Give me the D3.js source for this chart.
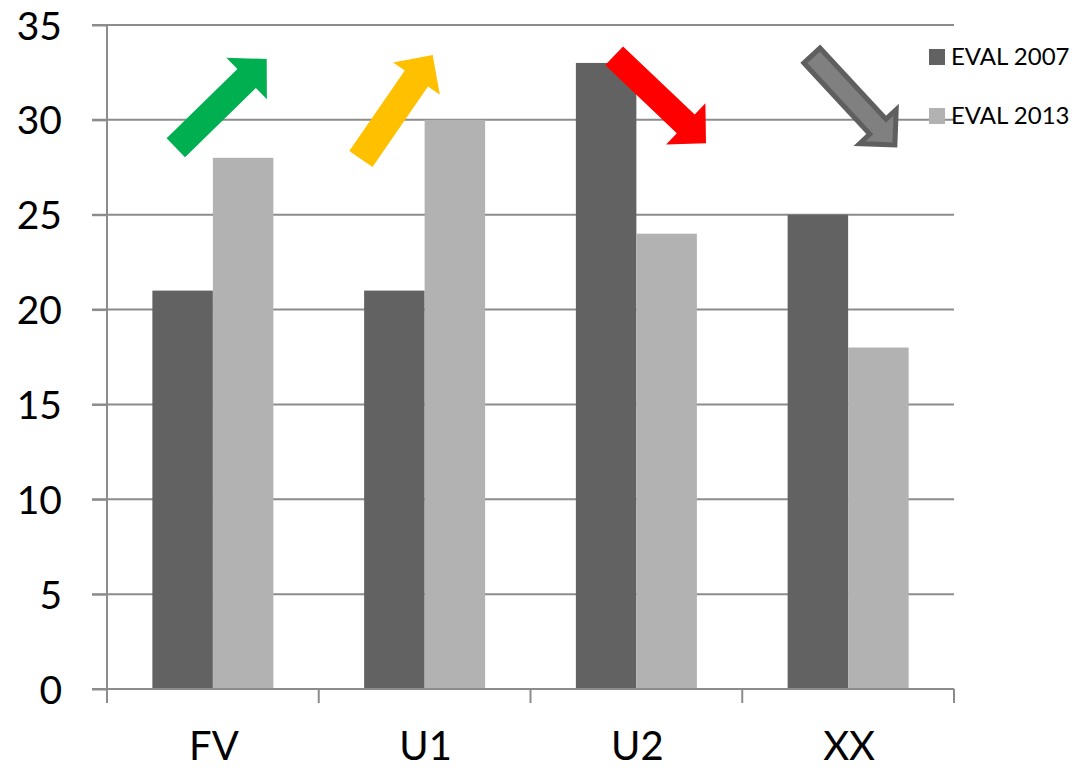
<!DOCTYPE html>
<html>
<head>
<meta charset="utf-8">
<script src="https://cdn.jsdelivr.net/npm/d3@7"></script>
<style>
  html, body { margin: 0; padding: 0; background: #fff; }
  svg { display: block; }
  text { font-family: Lato, "Open Sans", sans-serif; fill: #000; }
</style>
</head>
<body>
<svg id="chart" width="1086" height="770"></svg>
<script>
// ---- data ----
const categories = ["FV", "U1", "U2", "XX"];
const seriesNames = ["EVAL 2007", "EVAL 2013"];
const eval2007 = [21, 21, 33, 25];
const eval2013 = [28, 30, 24, 18];
const yTicks = [0, 5, 10, 15, 20, 25, 30, 35];
// trend arrows: category, tail (band fraction, value), tip (band fraction, value)
const arrowCats = ["FV", "U1", "U2", "XX"];
const arrowTail = [[0.325, 28.53], [0.199, 27.93], [0.395, 33.38], [0.329, 33.39]];
const arrowTip  = [[0.754, 33.21], [0.538, 33.42], [0.829, 28.77], [0.721, 28.68]];

// ---- styling ----
const colors = ["#626262", "#b2b2b2"];
const arrowFill = ["#00b050", "#ffc000", "#ff0000", "#808080"];
const arrowStroke = [null, null, null, "#5f5f5f"];
const arrowShaft = [26.4, 28.2, 25.9, 22];
const arrowHeadHalf = [29, 28.4, 28.5, 25];
const arrowHeadLen = [28, 28.7, 28, 25];
const gridColor = "#8c8c8c";

const svg = d3.select("#chart");
const mLeft = 107, mRight = 954, mTop = 25, mBottom = 689;

const x = d3.scaleBand().domain(categories).range([mLeft, mRight]).paddingInner(0).paddingOuter(0);
const xInner = d3.scaleBand().domain(seriesNames).range([0, x.bandwidth()]).paddingInner(0).paddingOuter(0.75);
const y = d3.scaleLinear().domain([0, 35]).range([mBottom, mTop]);

// gridlines
svg.append("g").selectAll("line").data(yTicks.filter(d => d > 0)).join("line")
  .attr("x1", mLeft - 15).attr("x2", mRight)
  .attr("y1", d => y(d)).attr("y2", d => y(d))
  .attr("stroke", gridColor).attr("stroke-width", 2);

// y axis
const yAxis = svg.append("g").attr("transform", `translate(${mLeft},0)`)
  .call(d3.axisLeft(y).tickValues(yTicks).tickSize(15).tickPadding(30).tickFormat(d3.format("d")));
yAxis.select(".domain").attr("stroke", gridColor).attr("stroke-width", 2).attr("d", `M-15,${mTop}H0V${mBottom}`);
yAxis.selectAll(".tick line").attr("stroke", gridColor).attr("stroke-width", 2);
yAxis.selectAll(".tick text").attr("font-size", 39).attr("font-family", "Lato").attr("fill", "#000").attr("dy", "0.36em");

// bars
const series = [eval2007, eval2013];
const gBars = svg.append("g");
series.forEach((vals, si) => {
  gBars.append("g").selectAll("rect").data(categories).join("rect")
    .attr("x", (c) => x(c) + xInner(seriesNames[si]))
    .attr("width", xInner.bandwidth())
    .attr("y", (c, i) => y(vals[i]))
    .attr("height", (c, i) => y(0) - y(vals[i]))
    .attr("fill", colors[si]);
});

// x axis
const xAxisG = svg.append("g").attr("transform", `translate(0,${mBottom})`);
xAxisG.append("line").attr("x1", mLeft - 15).attr("x2", mRight).attr("y1", 0).attr("y2", 0)
  .attr("stroke", gridColor).attr("stroke-width", 2);
const boundaries = categories.map(c => x(c)).concat([x(categories[categories.length - 1]) + x.bandwidth()]);
xAxisG.selectAll("line.tk").data(boundaries).join("line").attr("class", "tk")
  .attr("x1", d => d).attr("x2", d => d).attr("y1", 0).attr("y2", 14)
  .attr("stroke", gridColor).attr("stroke-width", 2);
xAxisG.selectAll("text").data(categories).join("text")
  .attr("x", d => x(d) + x.bandwidth() / 2 + 1)
  .attr("y", 71)
  .attr("text-anchor", "middle")
  .attr("font-size", 40)
  .text(d => d);

// arrows
function arrowPath(t, p, s, hw, hl) {
  const dx = p[0] - t[0], dy = p[1] - t[1];
  const L = Math.hypot(dx, dy);
  const ux = dx / L, uy = dy / L;
  const nx = -uy, ny = ux;
  const bx = p[0] - ux * hl, by = p[1] - uy * hl;
  const pts = [
    [t[0] + nx * s / 2, t[1] + ny * s / 2],
    [bx + nx * s / 2, by + ny * s / 2],
    [bx + nx * hw, by + ny * hw],
    [p[0], p[1]],
    [bx - nx * hw, by - ny * hw],
    [bx - nx * s / 2, by - ny * s / 2],
    [t[0] - nx * s / 2, t[1] - ny * s / 2]
  ];
  return "M" + pts.map(q => q[0].toFixed(1) + "," + q[1].toFixed(1)).join("L") + "Z";
}
const gArrows = svg.append("g");
arrowCats.forEach((c, i) => {
  const t = [x(c) + arrowTail[i][0] * x.bandwidth(), y(arrowTail[i][1])];
  const p = [x(c) + arrowTip[i][0] * x.bandwidth(), y(arrowTip[i][1])];
  const path = gArrows.append("path")
    .attr("d", arrowPath(t, p, arrowShaft[i], arrowHeadHalf[i], arrowHeadLen[i]))
    .attr("fill", arrowFill[i]);
  if (arrowStroke[i]) path.attr("stroke", arrowStroke[i]).attr("stroke-width", 5).attr("stroke-linejoin", "miter");
});

// legend
const legend = svg.append("g");
const legendY = [49, 108];
seriesNames.forEach((name, i) => {
  legend.append("rect").attr("x", 929).attr("y", legendY[i]).attr("width", 16).attr("height", 16).attr("fill", colors[i]);
  legend.append("text").attr("x", 951).attr("y", legendY[i] + 16).attr("font-size", 24).text(name);
});
</script>
</body>
</html>
